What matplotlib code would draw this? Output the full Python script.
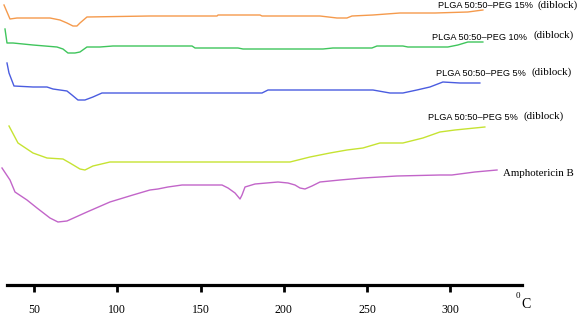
import matplotlib
matplotlib.use("Agg")
import matplotlib.pyplot as plt

# DSC thermograms, heights in arbitrary units above the baseline axis
temp_15 = [32.0, 35.6, 39.8, 59.6, 65.6, 69.8, 73.4, 75.8, 77.6, 81.8, 119.6, 159.9, 160.5, 185.7,
           186.9, 221.7, 231.9, 237.9, 240.9, 253.5, 269.7, 290.7, 310.5, 319.5]
heat_15 = [280, 266, 267, 267, 265, 262, 259, 259, 262, 268, 269, 269, 270, 270,
           269, 269, 267, 267, 269, 270, 272, 272, 273, 275]

temp_10 = [32.6, 33.8, 37.4, 49.4, 63.8, 67.4, 70.4, 74.6, 77.6, 81.8, 89.6, 97.4, 144.9, 146.7,
           172.5, 175.5, 223.5, 229.5, 252.9, 255.9, 271.5, 274.5, 298.5, 304.5, 310.5, 319.5]
heat_10 = [256, 242, 242, 240, 238, 236, 232, 232, 233, 238, 238, 239, 239, 237,
           237, 236, 236, 237, 237, 239, 239, 238, 238, 240, 243, 243]

temp_5a = [33.8, 35.0, 38.0, 49.4, 57.8, 61.4, 69.8, 72.8, 76.4, 80.6, 85.4, 90.8, 186.9, 190.5,
           253.5, 263.7, 271.5, 279.9, 287.7, 295.5, 305.7, 317.7]
heat_5a = [222, 212, 199, 198, 198, 196, 194, 190, 185, 185, 188, 192, 192, 195,
           195, 192, 192, 195, 198, 203, 202, 202]

temp_5b = [35.0, 40.4, 49.4, 57.8, 67.4, 71.6, 77.6, 80.6, 85.4, 95.6, 203.7, 215.7, 227.7, 237.9,
           247.5, 257.7, 271.5, 283.5, 293.7, 302.7, 320.7]
heat_5b = [159, 142, 132, 127, 126, 122, 116, 115, 119, 123, 123, 128, 132, 135,
           137, 142, 142, 147, 153, 155, 158]

temp_amb = [30.8, 35.6, 38.6, 45.8, 51.8, 59.6, 64.4, 69.8, 81.8, 95.6, 109.4, 119.6, 124.4, 130.4,
            138.9, 162.9, 166.5, 170.7, 173.7, 174.9, 176.7, 182.7, 196.5, 202.5, 206.7, 209.7,
            212.7, 216.9, 221.7, 233.7, 247.5, 267.9, 293.7, 300.9, 314.7, 328.0]
heat_amb = [117, 105, 93, 85, 77, 67, 63, 64, 73, 83, 90, 95, 96, 98,
            100, 100, 97, 92, 86, 90, 98, 101, 103, 102, 100, 97,
            96, 99, 103, 105, 107, 109, 110, 110, 113, 115]

xticks = [50, 100, 150, 200, 250, 300]

series = [
    (temp_15, heat_15, "#f59a4c"),
    (temp_10, heat_10, "#3fc55c"),
    (temp_5a, heat_5a, "#4a5ce0"),
    (temp_5b, heat_5b, "#c6e332"),
    (temp_amb, heat_amb, "#c265c9"),
]

W, H = 578, 316
fig = plt.figure(figsize=(W / 100, H / 100), dpi=100)
ax = fig.add_axes([7 / W, 31 / H, 515 / W, 285 / H])

for t, h, c in series:
    ax.plot(t, h, color=c, lw=1.0, clip_on=False)

ax.set_xlim(33.8, 343)
ax.set_ylim(0, 285)
for s in ["left", "right", "top"]:
    ax.spines[s].set_visible(False)
ax.spines["bottom"].set_linewidth(2.3)
ax.set_yticks([])
ax.set_xticks(xticks)
ax.tick_params(axis="x", direction="out", length=5, width=2, pad=9,
               labelsize=8.5, labelfontfamily="Liberation Serif")


def fpos(px, py):
    return px / W, 1 - py / H


# curve labels: sans part + serif "(diblock)"
labels = [
    ("PLGA 50:50\u2013PEG 15%", (438, 6), (538, 5)),
    ("PLGA 50:50\u2013PEG 10%", (432, 37), (533, 35)),
    ("PLGA 50:50\u2013PEG 5%", (436, 74), (532, 72)),
    ("PLGA 50:50\u2013PEG 5%", (428, 118), (523, 116)),
]
for txt, p1, p2 in labels:
    fig.text(*fpos(*p1), txt, fontsize=6.6, family="Liberation Sans", va="center", ha="left")
    fig.text(*fpos(*p2), "(diblock)", fontsize=7.8, family="Liberation Serif", va="center", ha="left")

fig.text(*fpos(503, 173), "Amphotericin B", fontsize=7.8, family="Liberation Serif", va="center", ha="left")

fig.text(*fpos(516, 296), "0", fontsize=6.5, family="Liberation Serif", va="center", ha="left")
fig.text(*fpos(521, 305), "C", fontsize=10, family="Liberation Serif", va="center", ha="left")

fig.savefig("out.png", dpi=100)
